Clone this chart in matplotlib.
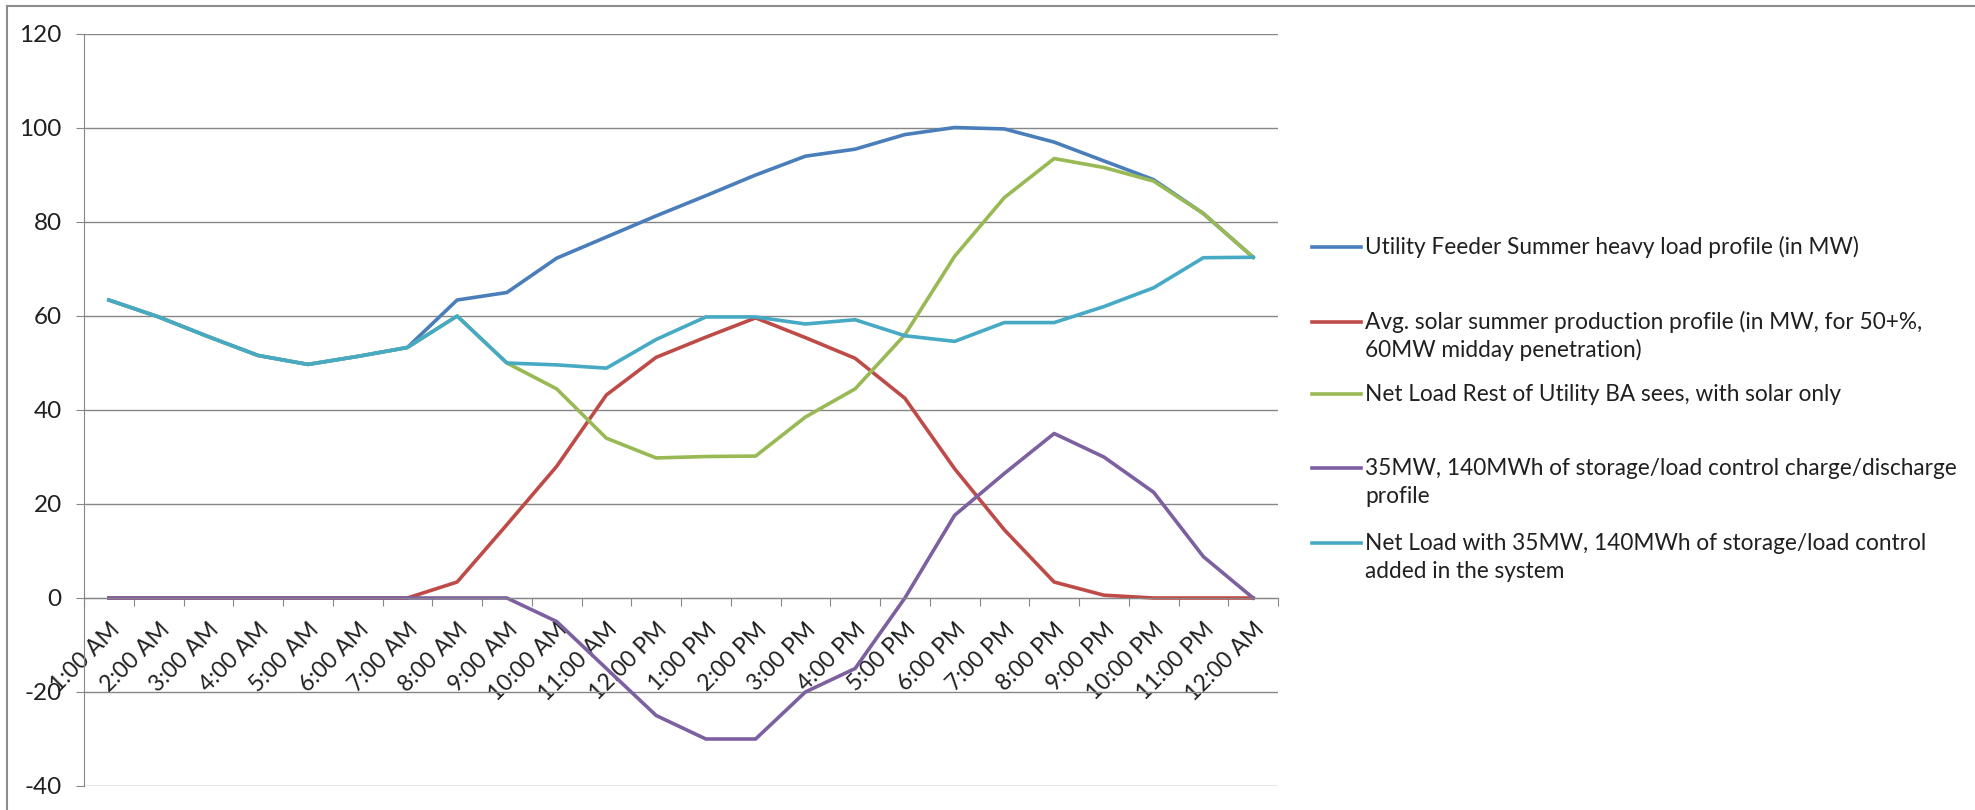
#Feeder load / solar / storage daily profile chart
import matplotlib
matplotlib.use("Agg")
import matplotlib.pyplot as plt
from matplotlib.lines import Line2D
import numpy as np

#Hour labels on the category axis
hours = ['1:00 AM', '2:00 AM', '3:00 AM', '4:00 AM', '5:00 AM', '6:00 AM',
         '7:00 AM', '8:00 AM', '9:00 AM', '10:00 AM', '11:00 AM', '12:00 PM',
         '1:00 PM', '2:00 PM', '3:00 PM', '4:00 PM', '5:00 PM', '6:00 PM',
         '7:00 PM', '8:00 PM', '9:00 PM', '10:00 PM', '11:00 PM', '12:00 AM']

#Series values (MW)
feeder_load = [63.4, 59.8, 55.6, 51.6, 49.7, 51.4, 53.3, 63.4, 65.0, 72.3, 76.8, 81.3,
               85.6, 90.0, 94.0, 95.5, 98.6, 100.1, 99.8, 97.0, 93.0, 89.0, 81.8, 72.5]
solar = [0, 0, 0, 0, 0, 0, 0, 3.4, 15.6, 28.0, 43.2, 51.2,
         55.5, 59.6, 55.4, 51.0, 42.5, 27.5, 14.5, 3.4, 0.6, 0, 0, 0]
net_solar = [63.4, 59.8, 55.6, 51.6, 49.7, 51.4, 53.3, 60.0, 50.0, 44.5, 34.0, 29.8,
             30.1, 30.2, 38.5, 44.5, 56.0, 72.7, 85.2, 93.5, 91.6, 88.7, 81.8, 72.5]
storage = [0, 0, 0, 0, 0, 0, 0, 0, 0, -5.0, -15.0, -25.0,
           -30.0, -30.0, -20.0, -15.0, 0, 17.6, 26.5, 35.0, 30.0, 22.5, 8.8, 0]
net_storage = [63.4, 59.8, 55.6, 51.6, 49.7, 51.4, 53.3, 60.0, 50.0, 49.6, 48.9, 55.0,
               59.8, 59.8, 58.3, 59.2, 55.8, 54.6, 58.6, 58.6, 62.0, 66.0, 72.4, 72.5]

labels = ["Utility Feeder Summer heavy load profile (in MW)",
          "Avg. solar summer production profile (in MW, for 50+%,\n60MW midday penetration)",
          "Net Load Rest of Utility BA sees, with solar only",
          "35MW, 140MWh of storage/load control charge/discharge\nprofile",
          "Net Load with 35MW, 140MWh of storage/load control\nadded in the system"]

colors = ['#4A7EBB', '#BE4B48', '#98B954', '#7D60A0', '#46AAC5']
series = [feeder_load, solar, net_solar, storage, net_storage]

W, H = 1975, 810
plt.rcParams['font.family'] = ['Lato', 'DejaVu Sans']
plt.rcParams['axes.unicode_minus'] = False
fig = plt.figure(figsize=(W/100, H/100), dpi=100)

#plot area in pixels (left, top, right, bottom)
L, T, R, B = 84, 34, 1278, 786
ax = fig.add_axes([L/W, 1-B/H, (R-L)/W, (B-T)/H])

x = np.arange(len(hours))
for vals, c in zip(series, colors):
    ax.plot(x, vals, color=c, lw=2.6, solid_joinstyle='round')

grey = '#868686'
ax.set_xlim(-0.5, len(hours)-0.5)
ax.set_ylim(-40, 120)
ax.set_yticks(np.arange(-40, 121, 20))
ax.yaxis.grid(True, color=grey, lw=1)
ax.set_axisbelow(True)
ax.tick_params(axis='y', length=6, color=grey, labelsize=17.5, pad=10,
               labelcolor='#202020')

for s in ['top', 'right']:
    ax.spines[s].set_visible(False)
ax.spines['left'].set_color(grey)
ax.spines['bottom'].set_color(grey)
ax.spines['bottom'].set_position(('data', 0))

#tick marks between categories, labels on categories
ax.set_xticks(np.arange(-0.5, len(hours), 1))
ax.set_xticklabels([])
ax.tick_params(axis='x', which='major', length=6, color=grey)
ax.set_xticks(x, minor=True)
ax.set_xticklabels(hours, minor=True, rotation=45, ha='right',
                   rotation_mode='anchor', fontsize=16.5, color='#202020')
ax.tick_params(axis='x', which='minor', length=0, pad=15)

#legend, drawn by hand to keep Excel's spacing
leg_y = [247, 322, 394, 468, 543]
for lab, c, yy in zip(labels, colors, leg_y):
    fig.add_artist(Line2D([1312/W, 1361/W], [1-yy/H, 1-yy/H], color=c, lw=2.6))
    for i, line in enumerate(lab.split('\n')):
        fig.text(1365/W, 1-(yy + 7 + i*28)/H, line, fontsize=16.3,
                 ha='left', va='baseline', color='#202020')

#chart border (only top and left are visible in the crop)
fig.add_artist(Line2D([7/W, 1], [1-6/H, 1-6/H], color='#8c8c8c', lw=1.5))
fig.add_artist(Line2D([7/W, 7/W], [0, 1-6/H], color='#8c8c8c', lw=1.5))

fig.savefig('out.png', dpi=100)
